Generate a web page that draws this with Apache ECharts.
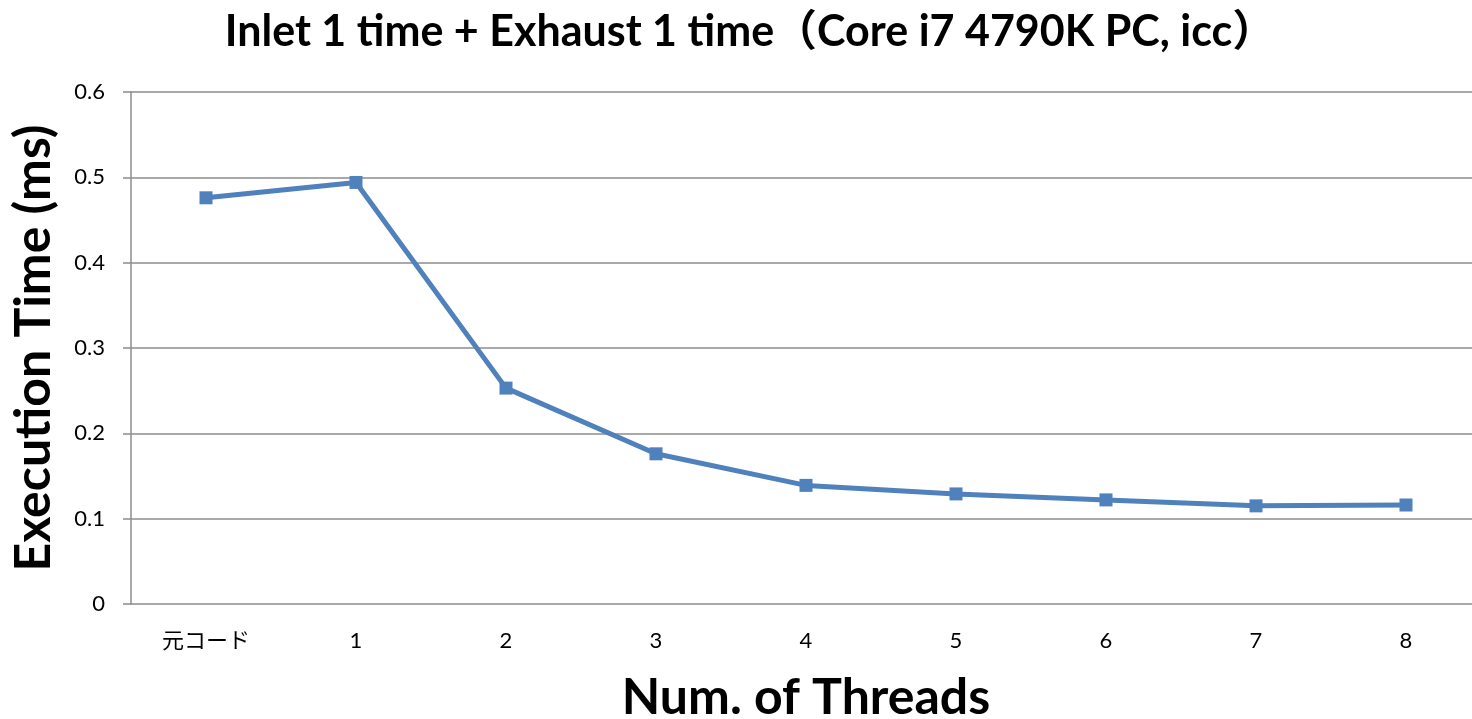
<!DOCTYPE html>
<html>
<head>
<meta charset="utf-8">
<script src="https://cdn.jsdelivr.net/npm/echarts@6/dist/echarts.min.js"></script>
<style>
  html, body { margin: 0; padding: 0; background: #ffffff; }
  #chart { width: 1472px; height: 719px; }
</style>
</head>
<body>
<div id="chart"></div>
<script>
// Thread counts (the first entry is the original, non-parallel code)
const categories = ['元コード', '1', '2', '3', '4', '5', '6', '7', '8'];
// Execution time in milliseconds
const execTimes = [0.476, 0.494, 0.253, 0.176, 0.139, 0.129, 0.122, 0.115, 0.116];
// Value axis range
const yMin = 0;
const yMax = 0.6;
const yStep = 0.1;

const latin = 'Lato, "Noto Sans CJK JP", sans-serif';
const gridColor = '#8c8c8c';

const chart = echarts.init(document.getElementById('chart'), null, { renderer: 'canvas' });
chart.setOption({
  backgroundColor: '#ffffff',
  animation: false,
  title: {
    text: 'Inlet 1 time + Exhaust 1 time（Core i7 4790K PC, icc）',
    left: 745,
    textAlign: 'center',
    top: 6,
    textStyle: { fontFamily: latin, fontWeight: 'bold', fontSize: 43, color: '#000000' }
  },
  grid: {
    left: 131, top: 92, width: 1350, height: 512,
    containLabel: false,
    outerBoundsMode: 'none'
  },
  xAxis: {
    type: 'category',
    data: categories,
    boundaryGap: true,
    name: 'Num. of Threads',
    nameLocation: 'middle',
    nameGap: 69,
    nameTextStyle: { fontFamily: latin, fontWeight: 'bold', fontSize: 50, color: '#000000' },
    axisLine: { show: false },
    axisTick: { show: false },
    axisLabel: { margin: 26, fontFamily: latin, fontSize: 22, color: '#000000' }
  },
  yAxis: {
    type: 'value',
    min: yMin,
    max: yMax,
    interval: yStep,
    name: 'Execution Time (ms)',
    nameLocation: 'middle',
    nameRotate: 90,
    nameGap: 72,
    nameTextStyle: { fontFamily: latin, fontWeight: 'bold', fontSize: 50, color: '#000000' },
    axisLine: { show: true, lineStyle: { color: gridColor, width: 1.5 } },
    axisTick: { show: true, inside: false, length: 8, lineStyle: { color: gridColor, width: 1.5 } },
    axisLabel: {
      margin: 26,
      fontFamily: latin,
      fontSize: 22,
      color: '#000000',
      formatter: v => (v === 0 ? '0' : v.toFixed(1))
    },
    splitLine: { show: true, lineStyle: { color: gridColor, width: 1.5 } }
  },
  series: [{
    type: 'line',
    data: execTimes,
    symbol: 'rect',
    symbolSize: 13,
    showAllSymbol: true,
    lineStyle: { color: '#4f81bd', width: 5 },
    itemStyle: { color: '#4f81bd' },
    z: 5
  }]
});
</script>
</body>
</html>
